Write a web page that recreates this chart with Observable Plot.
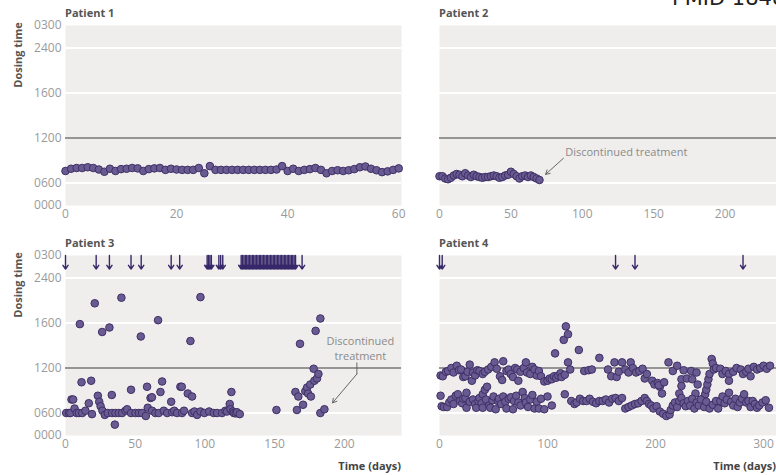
<!DOCTYPE html>
<html><head><meta charset="utf-8">
<script src="https://cdn.jsdelivr.net/npm/d3@7"></script>
<script src="https://cdn.jsdelivr.net/npm/@observablehq/plot@0.6"></script>
<style>
body{margin:0;background:#fff;}
#wrap{position:relative;width:776px;height:475px;overflow:hidden;font-family:"Open Sans",sans-serif;}
.panel{position:absolute;}
.lbl{position:absolute;font-weight:bold;font-size:11px;color:#555;white-space:nowrap;line-height:14px;}
.rot{transform:translate(-50%,-50%) rotate(-90deg);}
.pmid{position:absolute;left:672px;top:-14px;font-family:"DejaVu Sans",sans-serif;font-size:21px;color:#222;white-space:nowrap;line-height:24px;}
</style></head><body><div id="wrap"></div>
<script>
// ---- axis ticks ----
const hourTicks = [0, 6, 12, 16, 24, 27];
const hourTickLabels = ["0000", "0600", "1200", "1600", "2400", "0300"];
const gridHours = [6, 16, 24];
const referenceHour = 12;
const p1XTicks = [0, 20, 40, 60];
const p2XTicks = [0, 50, 100, 150, 200];
const p3XTicks = [0, 50, 100, 150, 200];
const p4XTicks = [0, 100, 200, 300];
const p1XDomain = [0, 60.5];
const p2XDomain = [0, 236];
const p3XDomain = [0, 241];
const p4XDomain = [0, 312];
const patientTitles = ["Patient 1", "Patient 2", "Patient 3", "Patient 4"];

// ---- Patient 1: day, dosing hour ----
const p1Days = [0,1,2,3,4,5,6,7,8,9,10,11,12,13,14,15,16,17,18,19,20,21,22,23,24,25,26,27,28,29,30,31,32,33,34,35,36,37,38,39,40,41,42,43,44,45,46,47,48,49,50,51,52,53,54,55,56,57,58,59,60];
const p1Hours = [7.6,7.9,8.0,8.0,8.1,8.0,7.8,7.5,7.9,7.6,7.85,7.9,8.0,7.95,7.6,7.85,7.95,8.0,7.75,7.9,7.8,7.75,7.75,7.75,8.0,7.3,8.25,7.75,7.75,7.75,7.75,7.75,7.75,7.75,7.75,7.75,7.75,7.75,7.8,8.25,7.6,7.9,7.6,7.75,7.85,8.0,7.75,7.3,7.6,7.7,7.6,7.7,7.85,8.1,8.2,7.9,7.7,7.45,7.55,7.75,7.95];

// ---- Patient 2 ----
const p2Days = [0,2,4,6,8,10,12,14,16,18,20,22,24,26,28,30,32,34,36,38,40,42,44,46,48,50,52,54,56,58,60,62,64,66,68,70];
const p2Hours = [6.9,6.9,6.6,6.5,6.7,7.0,7.2,7.1,6.9,7.3,7.0,6.8,7.1,6.9,6.8,6.7,6.8,6.8,6.9,7.0,6.9,6.7,6.8,7.0,7.1,7.5,7.2,6.9,6.6,6.9,7.0,6.8,7.0,6.8,6.6,6.4];

// ---- Patient 3: [day, hour] ----
const p3Doses = [
 [0.5,6.0],[2.5,6.0],[4.3,7.8],[5.5,7.8],[3.6,6.0],[6.5,6.6],[8,6.0],[9.6,6.0],[11.5,10.1],[10.3,15.9],[12,6.0],[14.3,6.3],
 [16.7,7.3],[18.4,10.3],[19,5.7],[21,19.5],[23.2,8.3],[24.2,7.5],[25.2,6.9],[26.3,15.2],[26.5,6.3],[28.2,5.5],[30.3,6.0],
 [31.5,15.6],[33.2,8.4],[33.4,6.0],[35.4,2.9],[35.8,6.0],[38.2,6.0],[40.1,20.5],[40.6,6.0],[43,6.3],[44.2,6.5],[47,9.1],
 [47,6.0],[50.2,6.0],[52.6,6.0],[54,14.8],[54.9,6.0],[57.6,5.2],[58.5,9.5],[59,6.7],[61,8.0],[62,8.1],[62.1,6.3],[64.5,6.0],
 [66.4,16.5],[66.9,6.0],[68.1,8.8],[69.3,10.2],[70.5,6.3],[72.9,6.0],[75.8,7.5],[76.5,6.1],[78,6.3],[80,6.0],[82.4,9.5],
 [83.4,9.5],[83.6,6.0],[85,6.3],[87.7,8.6],[89.6,14.4],[90.8,8.2],[90.8,6.0],[92.5,6.2],[94.4,5.5],[96.8,20.6],[96.8,6.2],
 [99.6,6.0],[103,6.2],[106.3,6.0],[108.7,6.0],[112.3,6.0],[114.7,6.3],[115.9,6.2],[117.8,7.2],[118.3,6.5],[119,8.8],
 [120,6.2],[120.7,6.0],[122,5.9],[123,6.1],[125,5.7],[151.3,6.4],[164.9,8.8],[166,6.4],[167,8.2],[168.2,14.15],[170.4,7.1],
 [172,8.9],[173.3,9.4],[174,8.6],[175.6,9.8],[176,8.2],[178,11.9],[178.5,10.3],[179.4,15.3],[180.4,10.6],[181.4,11.2],
 [182.8,16.8],[182.8,6.0],[185.7,6.5]
];
const p3MissedDays = [0,22,31.5,47,54.3,75.8,81.9,101.6,102.6,103.6,104.6,110,111.3,112.8,
 126,127,128,129,130,131,132,133,134,135,136,137,138,139,140,141,142,143,144,145,146,147,148,149,150,
 151,152,153,154,155,156,157,158,159,160,161,162,163,164,165,169.7];

// ---- Patient 4: [day, hour] ----
const p4Doses = [
 [1,11.0],[3,10.9],[6,11.5],[8,11.6],[11,12.0],[13,11.4],[16,12.2],[18,11.7],[20,11.8],[22,10.8],[24,10.9],[26,11.5],[28,12.3],
 [30,10.3],[31,11.4],[33,11.0],[35,11.7],[37,11.6],[40,11.2],[42,11.5],[45,11.8],[48,12.1],[51,12.5],[53,11.9],[56,10.9],
 [58,10.4],[59,12.6],[62,11.6],[64,11.8],[66,11.2],[68,10.8],[70,12.0],[72,11.8],[73,10.3],[75,11.5],[78,12.0],[80,12.5],
 [81,11.4],[84,11.2],[86,12.1],[88,11.8],[90,11.0],[92,11.6],[94,10.9],[97,10.2],[100,10.3],[102,10.6],[104,10.5],[106,10.9],
 [107,13.3],[108,10.7],[110,11.0],[112,11.3],[113,10.8],[115,14.5],[116,11.1],[117,15.7],[119,15.0],[119,12.5],[121,11.8],
 [129,13.6],[134,11.6],[138,11.7],[141,11.8],[148,12.9],[156,11.8],[159,10.9],[162,12.5],[164,10.8],[166,11.5],[169,12.5],
 [172,11.8],[175,11.4],[177,12.5],[179,12.0],[182,11.4],[185,11.6],[188,11.9],[190,10.6],[192,11.2],[197,10.3],[199,9.8],
 [202,10.0],[204,9.5],[206,8.6],[203,9.7],[208,10.1],[212,12.5],[216,11.6],[220,12.2],[224,10.5],[224,9.6],[222,8.6],
 [226,11.7],[229,10.6],[233,11.6],[234,10.5],[238,11.4],[239,9.8],[237,8.6],[244,7.9],[246,8.5],[247,9.1],[248,9.8],
 [249,10.5],[250,11.2],[252,12.8],[253,12.4],[254,11.8],[256,12.0],[260,11.9],[262,11.2],[265,11.6],[268,11.2],[268,10.3],
 [272,11.5],[275,12.0],[279,11.8],[281,11.2],[284,11.5],[286,11.9],[288,10.9],[291,12.1],[294,11.8],[297,12.0],[300,12.2],
 [303,11.9],[306,12.2],
 [1,8.3],[2,6.9],[4,6.8],[7,6.8],[9,7.4],[11,7.8],[13,7.2],[15,8.3],[17,8.5],[19,7.6],[21,7.3],[22,7.9],[24,8.0],[25,8.7],
 [25,6.7],[28,7.5],[31,7.8],[33,7.2],[34,6.7],[36,7.6],[37,8.0],[39,7.3],[40,8.5],[42,9.1],[44,9.5],[40,6.7],[43,7.8],
 [46,7.0],[47,6.7],[49,7.7],[50,8.2],[52,6.5],[54,7.6],[55,7.9],[57,7.2],[59,8.2],[61,7.5],[62,6.6],[64,7.9],[66,8.1],
 [68,6.5],[69,7.6],[71,8.3],[73,7.4],[75,7.0],[77,8.8],[79,8.0],[80,7.4],[82,6.8],[84,7.8],[86,8.4],[88,6.6],[90,7.5],
 [92,6.6],[94,7.9],[97,6.5],[100,8.2],[104,7.0],[116,8.5],[122,7.6],[125,7.2],[127,7.4],[130,7.9],[133,7.6],[136,7.6],
 [139,7.9],[142,7.5],[145,7.3],[148,7.6],[151,7.6],[154,7.8],[157,7.4],[160,7.9],[163,8.0],[166,7.6],[169,8.0],[172,6.6],
 [175,6.8],[178,7.0],[181,7.2],[184,7.3],[187,7.6],[190,8.0],[192,7.6],[194,7.2],[196,7.0],[198,6.6],[201,6.9],[204,6.2],
 [207,5.8],[210,5.2],[213,5.6],[214,6.4],[216,7.0],[218,7.4],[220,6.8],[222,7.6],[224,8.0],[226,7.3],[228,6.9],[230,7.6],
 [232,7.0],[234,7.9],[236,6.6],[238,7.4],[240,7.0],[242,7.8],[245,6.8],[247,7.5],[250,6.6],[253,7.1],[256,7.6],[258,6.6],
 [260,7.6],[262,8.2],[264,7.3],[266,7.8],[268,8.7],[270,7.5],[272,7.0],[274,7.9],[276,6.8],[278,7.4],[280,7.9],[282,8.5],
 [284,7.4],[286,7.6],[288,6.8],[290,7.6],[292,7.2],[294,6.7],[296,7.0],[299,7.4],[302,7.7],[305,6.7]
];
const p4MissedDays = [0, 2.5, 163, 181, 281];

// ---- annotations (data coordinates: day, hour) ----
const p2Note = {text: "Discontinued treatment", day: 88, hour: 10.05, from: [86.8, 9.3], to: [74.3, 7.15]};
const p3NoteLines = [{text: "Discontinued", day: 211.5, hour: 14.35}, {text: "treatment", day: 211.5, hour: 13.0}];
const p3NoteArrow = {bend: [[209, 12.45], [209, 11.2]], to: [191.5, 7.35]};

// ---- the axis is piecewise: hours map onto evenly spaced axis units ----
const axisUnits = [0, 1, 3, 5, 7, 8];
const hourToUnit = d3.scaleLinear().domain(hourTicks).range(axisUnits);
const yv = h => hourToUnit(h);

const H = 225, MT = 25, MB = 20;
const dotFill = "#6a5a92", dotStroke = "#3e3066", arrowColor = "#37286a";

function panel({left, top, width, marginLeft, marginRight, xDomain, xTicks, showY, dots, missed, extra = []}) {
  const marks = [
    Plot.frame({fill: "#f0eeec", stroke: "none"}),
    Plot.ruleY(gridHours, {y: yv, stroke: "#ffffff", strokeWidth: 2}),
    Plot.ruleY([referenceHour], {y: yv, stroke: "#777", strokeWidth: 1.5}),
    Plot.axisX(xTicks, {tickSize: 0, tickPadding: 4, label: null, fontSize: 12}),
  ];
  if (showY) marks.push(Plot.axisY(hourTicks.map(yv), {tickSize: 0, tickPadding: 4, label: null, fontSize: 12,
    tickFormat: d => hourTickLabels[axisUnits.indexOf(d)]}));
  if (missed) marks.push(Plot.arrow(missed, {x1: d => d, x2: d => d, y1: () => yv(27), y2: () => yv(25.2),
    stroke: arrowColor, strokeWidth: 1.4, headLength: 5, headAngle: 70}));
  marks.push(Plot.dot(dots, {x: d => d[0], y: d => yv(d[1]), r: 3.8, fill: dotFill, stroke: dotStroke, strokeWidth: 1}));
  marks.push(...extra);
  const svg = Plot.plot({
    width, height: H, marginTop: MT, marginBottom: MB, marginLeft, marginRight,
    style: {fontFamily: '"Open Sans", sans-serif', fontSize: "11px", color: "#9a9a9a", background: "transparent", overflow: "visible"},
    x: {domain: xDomain, axis: null},
    y: {domain: [0, 8], axis: null},
    marks
  });
  const div = document.createElement("div");
  div.className = "panel";
  div.style.left = left + "px"; div.style.top = top + "px";
  div.appendChild(svg);
  document.getElementById("wrap").appendChild(div);
}

const zip = (a, b) => a.map((d, i) => [d, b[i]]);

panel({left: 0, top: 0, width: 420, marginLeft: 65, marginRight: 19, xDomain: p1XDomain, xTicks: p1XTicks, showY: true,
  dots: zip(p1Days, p1Hours)});
panel({left: 420, top: 0, width: 356, marginLeft: 19, marginRight: 0, xDomain: p2XDomain, xTicks: p2XTicks, showY: false,
  dots: zip(p2Days, p2Hours), extra: [
    Plot.text([p2Note], {x: "day", y: d => yv(d.hour), text: "text", textAnchor: "start", fill: "#8a8a8a", fontSize: 11}),
    Plot.arrow([p2Note], {x1: d => d.from[0], y1: d => yv(d.from[1]), x2: d => d.to[0], y2: d => yv(d.to[1]),
      stroke: "#666", strokeWidth: 1, headLength: 7})
  ]});
panel({left: 0, top: 230, width: 420, marginLeft: 65, marginRight: 19, xDomain: p3XDomain, xTicks: p3XTicks, showY: true,
  dots: p3Doses, missed: p3MissedDays, extra: [
    Plot.text(p3NoteLines, {x: "day", y: d => yv(d.hour), text: "text", textAnchor: "middle", fill: "#8a8a8a", fontSize: 11}),
    Plot.line(p3NoteArrow.bend, {x: d => d[0], y: d => yv(d[1]), stroke: "#666", strokeWidth: 1}),
    Plot.arrow([p3NoteArrow], {x1: d => d.bend[1][0], y1: d => yv(d.bend[1][1]), x2: d => d.to[0], y2: d => yv(d.to[1]),
      stroke: "#666", strokeWidth: 1, headLength: 7})
  ]});
panel({left: 420, top: 230, width: 356, marginLeft: 19, marginRight: 0, xDomain: p4XDomain, xTicks: p4XTicks, showY: false,
  dots: p4Doses, missed: p4MissedDays});

// ---- text labels ----
const wrap = document.getElementById("wrap");
function label(text, css, cls = "lbl") {
  const d = document.createElement("div");
  d.className = cls; d.textContent = text; d.style.cssText = css;
  wrap.appendChild(d);
}
label(patientTitles[0], "left:65px;top:6px;");
label(patientTitles[1], "left:439px;top:6px;");
label(patientTitles[2], "left:65px;top:236px;");
label(patientTitles[3], "left:439px;top:236px;");
label("Dosing time", "left:18px;top:55px;", "lbl rot");
label("Dosing time", "left:18px;top:285px;", "lbl rot");
label("Time (days)", "right:375px;top:459px;color:#444;");
label("Time (days)", "right:0px;top:459px;color:#444;");
label("PMID 18480", "", "pmid");
</script></body></html>
